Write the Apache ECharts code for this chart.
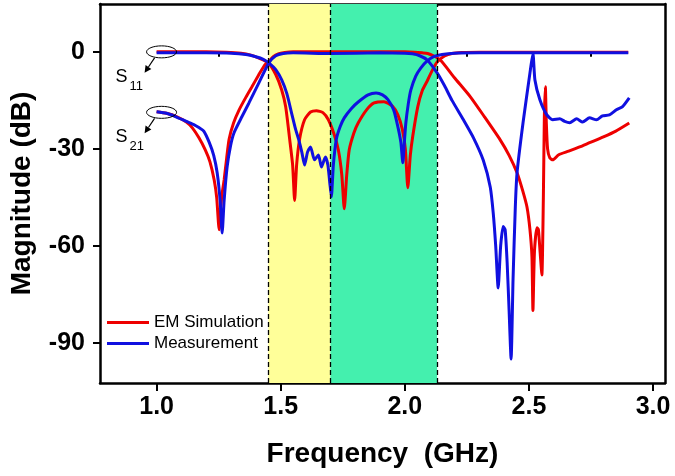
<!DOCTYPE html>
<html><head><meta charset="utf-8">
<script src="https://cdn.jsdelivr.net/npm/echarts@6/dist/echarts.min.js"></script>
<style>html,body{margin:0;padding:0;background:#fff}#c{width:675px;height:476px}</style>
</head><body><div id="c"></div><script>
// ---- data ----
const xTickLabels = [1.0, 1.5, 2.0, 2.5, 3.0];
const xMinorTicks = [1.25, 1.75, 2.25, 2.75];
const yTickLabels = [0, -30, -60, -90];
const bandEdges = [1.45, 1.70, 2.13];

const simS11Freq = [1.00,1.10,1.20,1.28,1.34,1.38,1.41,1.45,1.48,1.504,1.52,1.536,1.548,1.556,1.564,1.576,1.596,1.62,1.644,1.67,1.692,1.715,1.732,1.746,1.756,1.766,1.776,1.795,1.812,1.845,1.876,1.916,1.95,1.972,1.99,2.002,2.012,2.022,2.032,2.052,2.07,2.092,2.112,2.132,2.16,2.19,2.23,2.3,2.5,2.7,2.9];
const simS11 = [0,0,0,-0.1,-0.4,-1,-1.9,-3.4,-7,-11.8,-17,-27,-35,-46,-35,-27,-21,-18.6,-18.2,-18.8,-21,-25.5,-30.3,-38,-48.5,-38,-30.3,-25,-22,-18,-15.8,-15.4,-16.8,-19.5,-24,-30,-42,-32,-26,-17,-12,-8.7,-5.5,-3,-1.3,-0.5,-0.2,-0.1,-0.1,-0.1,-0.1];

const simS21Freq = [1.00,1.04,1.08,1.12,1.144,1.17,1.196,1.215,1.232,1.242,1.252,1.262,1.272,1.282,1.292,1.31,1.332,1.36,1.384,1.41,1.436,1.452,1.47,1.49,1.516,1.55,1.7,1.9,2.0,2.04,2.07,2.092,2.115,2.144,2.2,2.264,2.32,2.384,2.42,2.452,2.475,2.492,2.504,2.512,2.516,2.522,2.532,2.538,2.545,2.552,2.558,2.562,2.566,2.570,2.575,2.584,2.596,2.62,2.66,2.704,2.744,2.8,2.85,2.904];
const simS21 = [-18.5,-19,-20,-21.7,-23.5,-26.5,-30.3,-34,-39.6,-45,-55,-45,-39.6,-33,-27,-22,-18,-14,-10.8,-7.3,-4,-3,-1.5,-0.6,-0.2,0,0,0,0,-0.1,-0.3,-0.5,-1.2,-2.6,-8,-13.9,-20,-27.2,-32,-37.4,-43,-48,-55,-63.4,-80,-62,-54.4,-55,-62,-69,-45,-20,-10.8,-22,-30,-32.8,-33.4,-31.8,-30.7,-29.4,-28.1,-26.3,-24.5,-22];

const measS11Freq = [1.00,1.10,1.20,1.30,1.36,1.40,1.43,1.452,1.48,1.504,1.525,1.544,1.56,1.572,1.585,1.596,1.608,1.62,1.636,1.652,1.664,1.68,1.69,1.697,1.704,1.712,1.724,1.74,1.756,1.785,1.812,1.852,1.884,1.91,1.932,1.955,1.972,1.984,1.992,1.998,2.004,2.014,2.024,2.044,2.064,2.09,2.116,2.15,2.2,2.3,2.5,2.7,2.9];
const measS11 = [-0.3,-0.3,-0.3,-0.4,-0.8,-1.5,-2.3,-3.4,-5.5,-8.7,-13,-19,-24,-27,-31,-35,-31,-29.4,-33.4,-31.9,-35.6,-32.5,-35,-40,-44.8,-35,-27,-23,-20.4,-17.5,-15.5,-13.3,-12.7,-13.3,-14.8,-18,-23.2,-28,-34.3,-28,-22,-16,-11.8,-7.5,-5,-2.8,-1.5,-0.8,-0.4,-0.3,-0.3,-0.3,-0.3];

const measS21Freq = [1.00,1.04,1.076,1.12,1.15,1.172,1.19,1.212,1.23,1.244,1.256,1.264,1.272,1.284,1.298,1.312,1.344,1.372,1.412,1.452,1.48,1.51,1.55,1.7,1.9,2.0,2.03,2.06,2.09,2.13,2.16,2.19,2.236,2.276,2.316,2.344,2.356,2.366,2.376,2.386,2.396,2.404,2.412,2.42,2.428,2.436,2.445,2.452,2.476,2.504,2.516,2.524,2.544,2.572,2.596,2.624,2.644,2.664,2.692,2.716,2.744,2.772,2.796,2.824,2.852,2.876,2.904];
const measS21 = [-18.5,-19,-20,-21.5,-22.5,-23.5,-24.5,-28,-32,-37.4,-46,-56,-46,-35.6,-29,-25,-20,-15.8,-9.6,-3.4,-1.2,-0.5,-0.3,-0.5,-0.3,-0.4,-0.6,-1.2,-2.5,-6.5,-10.5,-15,-21,-26.5,-33.5,-41.8,-49.8,-60,-73,-60,-54,-55,-65,-80,-95,-70,-48,-37.4,-22,-6.5,-0.5,-8.7,-14.8,-19.5,-21,-20.7,-21.5,-21.9,-20.7,-21.7,-20.4,-21,-19.8,-19.5,-17.9,-17,-14.2];

const pairs = (fx, vy) => fx.map((f, i) => [f, vy[i]]);

const RED = '#ee0000', BLUE = '#1010e0';
const FONT = '"Liberation Sans", Arial, sans-serif';

const chart = echarts.init(document.getElementById('c'), null, {renderer: 'canvas'});
const XMIN = 0.772, XMAX = 3.048, YMIN = -102.4, YMAX = 14.8;

function lineSeries(name, data, color, z) {
  return {type: 'line', name, data, symbol: 'none', smooth: 0.2, z,
    lineStyle: {color, width: 3}, itemStyle: {color}, xAxisIndex: 0, yAxisIndex: 0};
}

chart.setOption({
  animation: false,
  backgroundColor: '#fff',
  grid: {left: 97, right: 10, top: 4, bottom: 93, containLabel: false},
  legend: {
    data: ['EM Simulation', 'Measurement'],
    icon: 'rect',
    orient: 'vertical', left: 102, top: 309, itemWidth: 42, itemHeight: 3, itemGap: 4,
    textStyle: {fontSize: 17, fontFamily: FONT, color: '#000'}
  },
  xAxis: [
    {type: 'value', position: 'bottom', min: XMIN, max: XMAX,
     name: 'Frequency  (GHz)', nameLocation: 'middle', nameGap: 57,
     nameTextStyle: {fontSize: 28, fontWeight: 'bold', fontFamily: FONT, color: '#000'},
     axisLine: {show: true, onZero: false, lineStyle: {color: '#000', width: 2.5}},
     axisTick: {show: true, customValues: xTickLabels, length: 8, lineStyle: {color: '#000', width: 2}},
     axisLabel: {customValues: xTickLabels, formatter: v => Number(v).toFixed(1), fontSize: 25, fontWeight: 'bold', fontFamily: FONT, color: '#000', margin: 12},
     splitLine: {show: false}},
    {type: 'value', position: 'top', min: XMIN, max: XMAX,
     axisLine: {show: true, onZero: false, lineStyle: {color: '#000', width: 2.5}},
     axisTick: {show: false}, axisLabel: {show: false}, splitLine: {show: false}},
    {type: 'value', position: 'bottom', min: XMIN, max: XMAX,
     axisLine: {show: false},
     axisTick: {show: true, customValues: xMinorTicks, length: 5, lineStyle: {color: '#000', width: 2}},
     axisLabel: {show: false}, splitLine: {show: false}}
  ],
  yAxis: [
    {type: 'value', position: 'left', min: YMIN, max: YMAX,
     name: 'Magnitude (dB)', nameLocation: 'middle', nameGap: 64, nameRotate: 90,
     nameTextStyle: {fontSize: 28, fontWeight: 'bold', fontFamily: FONT, color: '#000'},
     axisLine: {show: true, onZero: false, lineStyle: {color: '#000', width: 2.5}},
     axisTick: {show: true, customValues: yTickLabels, length: 7, lineStyle: {color: '#000', width: 2}},
     axisLabel: {customValues: yTickLabels, fontSize: 25, fontWeight: 'bold', fontFamily: FONT, color: '#000', margin: 15},
     splitLine: {show: false}},
    {type: 'value', position: 'right', min: YMIN, max: YMAX,
     axisLine: {show: true, onZero: false, lineStyle: {color: '#000', width: 2.5}},
     axisTick: {show: false}, axisLabel: {show: false}, splitLine: {show: false}}
  ],
  series: [
    {type: 'line', name: 'bands', data: [[bandEdges[0], YMIN]], symbol: 'none', z: 1,
     lineStyle: {opacity: 0}, silent: true,
     markArea: {silent: true, z: 1, data: [
       [{xAxis: bandEdges[0], itemStyle: {color: '#ffff99', opacity: 1}}, {xAxis: bandEdges[1]}],
       [{xAxis: bandEdges[1], itemStyle: {color: '#44f0ae', opacity: 1}}, {xAxis: bandEdges[2]}]
     ]},
     markLine: {silent: true, symbol: ['none', 'none'], label: {show: false},
       lineStyle: {color: '#000', type: [5, 3], width: 1.3},
       data: bandEdges.map(v => ({xAxis: v}))}
    },
    lineSeries('EM Simulation', pairs(simS11Freq, simS11), RED, 3),
    lineSeries('EM Simulation', pairs(simS21Freq, simS21), RED, 3),
    lineSeries('Measurement', pairs(measS11Freq, measS11), BLUE, 4),
    lineSeries('Measurement', pairs(measS21Freq, measS21), BLUE, 4)
  ]
});

// annotations anchored to data coordinates
function anno(f, db, sub) {
  const p = chart.convertToPixel({xAxisIndex: 0, yAxisIndex: 0}, [f, db]);
  const cx = p[0], cy = p[1];
  const x1 = cx - 7, y1 = cy + 6, x2 = cx - 17, y2 = cy + 21;
  const ang = Math.atan2(y2 - y1, x2 - x1);
  const hl = 7, hw = 3.5;
  const bx = x2 - hl * Math.cos(ang), by = y2 - hl * Math.sin(ang);
  const nx = -Math.sin(ang), ny = Math.cos(ang);
  return [
    {type: 'ellipse', shape: {cx, cy, rx: 15, ry: 6}, style: {fill: 'none', stroke: '#000', lineWidth: 1}, z: 100},
    {type: 'line', shape: {x1, y1, x2: bx, y2: by}, style: {stroke: '#000', lineWidth: 1.2}, z: 100},
    {type: 'polygon', shape: {points: [[x2, y2], [bx + nx * hw, by + ny * hw], [bx - nx * hw, by - ny * hw]]}, style: {fill: '#000'}, z: 100},
    {type: 'text', x: cx - 46, y: cy + 16, style: {text: 'S', font: '18px ' + FONT, fill: '#000'}, z: 100},
    {type: 'text', x: cx - 32, y: cy + 28, style: {text: sub, font: '13px ' + FONT, fill: '#000'}, z: 100}
  ];
}
chart.setOption({graphic: [].concat(anno(1.02, 0, '11'), anno(1.02, -18.7, '21'))});
</script></body></html>
